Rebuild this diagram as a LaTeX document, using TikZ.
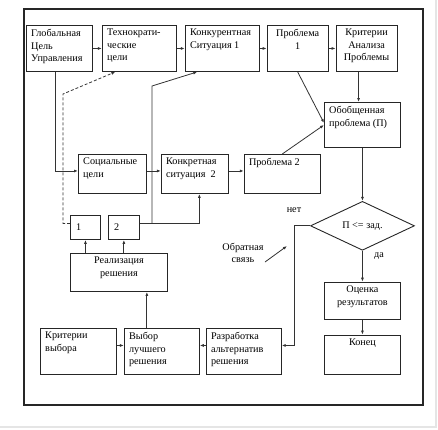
\documentclass[tikz,border=0pt]{standalone}
\usepackage{fontspec}
\setmainfont{Liberation Serif}
\usetikzlibrary{arrows.meta,positioning,shapes.geometric}

\newcommand{\txt}{\fontsize{10.2}{12.5}\selectfont}
\tikzset{
  blk/.style 2 args={draw=black!85, line width=0.9pt, rectangle, anchor=north west,
    inner sep=0pt, minimum width=#1pt, minimum height=#2pt},
  lt/.style={anchor=north west, align=left, inner xsep=5pt, inner ysep=4pt, font=\txt},
  ct/.style={anchor=north, align=center, inner sep=4pt, font=\txt},
  ln/.style={draw=black!80, line width=0.8pt},
}

\begin{document}
\begin{tikzpicture}[x=1pt, y=-1pt, node distance=8pt, >={Latex[length=4pt,width=3pt]}]
  \useasboundingbox (0,0) rectangle (438,429);
  \draw[gray!20, line width=1.5pt] (0,427) -- (436,427) -- (436,0);
  \draw[black!85, line width=1.1pt] (24,9) rectangle (423,405);

  % top row
  \node[blk={66}{46}, label={[lt]north west:Глобальная\\Цель\\Управления}] (G) at (26,25) {};
  \node[blk={74}{46}, right=9pt of G, label={[lt]north west:Технократи-\\ческие\\цели}] (T) {};
  \node[blk={74}{46}, right=of T, label={[lt]north west:Конкурентная\\Ситуация 1}] (K1) {};
  \node[blk={61}{46}, right=7pt of K1, label={[ct]north:Проблема\\1}] (P1) {};
  \node[blk={61}{46}, right=7pt of P1, label={[ct]north:Критерии\\Анализа\\Проблемы}] (KA) {};

  % middle
  \node[blk={76}{45}, label={[lt]north west:Обобщенная\\проблема (П)}] (O) at (324,102) {};
  \node[blk={68}{39}, label={[lt]north west:Социальные\\цели}] (S) at (78,154) {};
  \node[blk={67}{39}, right=14pt of S, label={[lt]north west:Конкретная\\ситуация~ 2}] (K2) {};
  \node[blk={76}{39}, right=15pt of K2, label={[lt]north west:Проблема 2}] (P2) {};
  \node[draw=black!85, line width=0.9pt, diamond, inner sep=0pt, minimum width=104pt,
        minimum height=45pt, font=\txt, below=53pt of O] (D) {П <= зад.};
  \node[blk={76}{37}, below=31pt of D, label={[ct]north:Оценка\\результатов}] (OR) {};
  \node[blk={76}{39}, below=15pt of OR, label={[ct]north:Конец}] (KN) {};

  \node[blk={30}{24}, label={[anchor=west, inner xsep=6pt, font=\txt]west:1}] (B1) at (70,215) {};
  \node[blk={31}{24}, right=7pt of B1, label={[anchor=west, inner xsep=6pt, font=\txt]west:2}] (B2) {};
  \node[blk={97}{38}, label={[ct]north:Реализация\\решения}] (R) at (70,253) {};

  % bottom row
  \node[blk={76}{46}, label={[lt]north west:Критерии\\выбора}] (KV) at (40,328) {};
  \node[blk={75}{46}, right=7pt of KV, label={[lt]north west:Выбор\\лучшего\\решения}] (V) {};
  \node[blk={75}{46}, right=6pt of V, label={[lt]north west:Разработка\\альтернатив\\решения}] (RA) {};

  \node[font=\txt] (net) at (294,210) {нет};
  \node[font=\txt] (da) at (379,256) {да};
  \node[font=\txt, align=center] (fb) at (243,253) {Обратная\\связь};
  \coordinate (fb1) at (265,262);
  \coordinate (fb2) at (287,246);
  \coordinate (dk) at (63,94);
  \coordinate (jn) at (152,223);
  \coordinate (kn) at (152,86);

  \draw[ln,->] (G) -- (T);
  \draw[ln,->] (T) -- (K1);
  \draw[ln,->] (K1) -- (P1);
  \draw[ln,->] (P1) -- (KA);
  \draw[ln,->] ([xshift=-8pt]KA.south) -- ([xshift=-8pt]KA.south |- O.north);
  \draw[ln,->] (P1.south) -- ([yshift=2pt]O.west);
  \draw[ln,->] (P2.north) -- (O.west);
  \draw[ln,->] (O) -- (D);
  \draw[ln,->] (D) -- (OR);
  \draw[ln,->] (OR) -- (KN);
  \draw[ln,->] (D.west) -- ++(-16,0) |- ([yshift=6pt]RA.east);
  \draw[ln,->] (fb1) -- (fb2);
  \draw[ln,->] ([yshift=6pt]RA.west) -- ([yshift=6pt]V.east);
  \draw[ln,->] ([yshift=6pt]KV.east) -- ([yshift=6pt]V.west);
  \draw[ln,->] ([xshift=-15pt]V.north) -- ([xshift=-15pt]V.north |- R.south);
  \draw[ln,->] (B1.south |- R.north) -- (B1.south);
  \draw[ln,->] (B2.south |- R.north) -- (B2.south);
  \draw[ln,->] ([xshift=-4pt]G.south) |- ([yshift=3pt]S.west);
  \draw[ln,->] ([yshift=3pt]S.east) -- ([yshift=3pt]K2.west);
  \draw[ln,->] ([yshift=3pt]K2.east) -- ([yshift=3pt]P2.west);
  \draw[ln,->,dash pattern=on 3pt off 2pt] ([yshift=4pt]B1.west) -| (dk) -- ([xshift=-24pt]T.south);
  \draw[ln,->] ([yshift=4pt]B2.east) -| ([xshift=4.5pt]K2.south);
  \draw[ln,->] (jn) -- (kn) -- ([xshift=-25pt]K1.south);
\end{tikzpicture}
\end{document}
